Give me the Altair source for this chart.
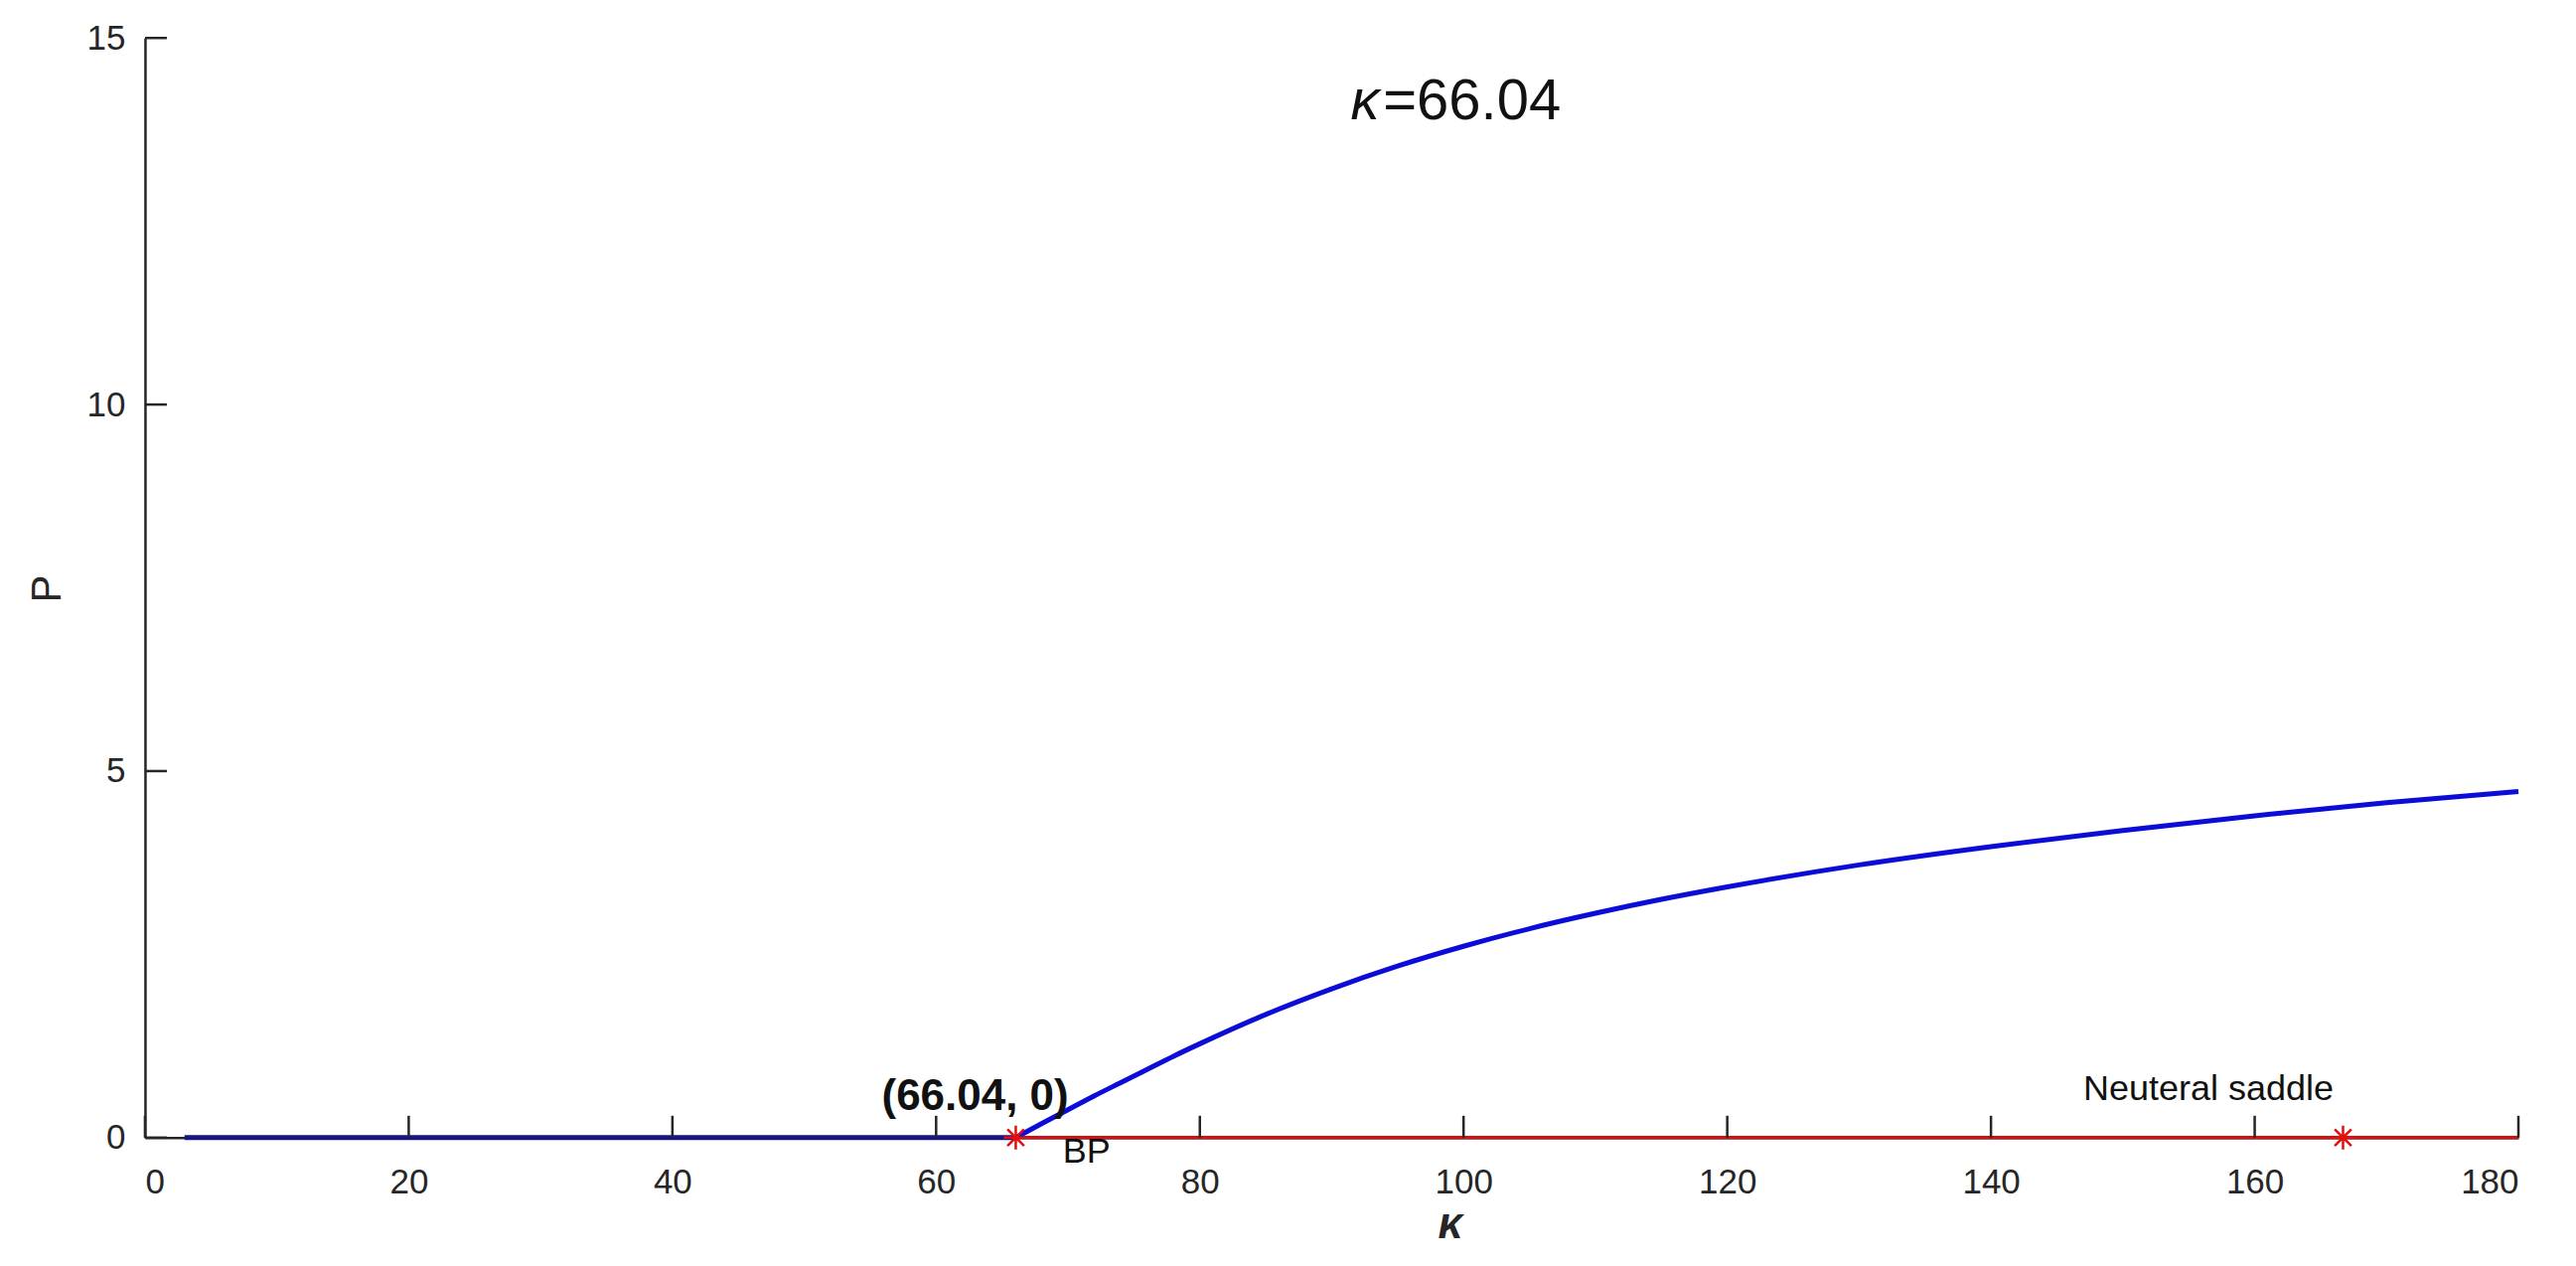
import altair as alt
import pandas as pd

# ---- data ----
flat_k = [3.0, 66.04]
flat_p = [0.0, 0.0]

curve_k = [66.04, 68, 70, 72, 74, 76, 78, 80, 85, 90, 95, 100, 105, 110, 115, 120,
           130, 140, 150, 160, 170, 180]
curve_p = [0.0, 0.19, 0.38, 0.57, 0.75, 0.93, 1.11, 1.28, 1.68, 2.03, 2.34, 2.61, 2.85,
           3.06, 3.25, 3.42, 3.72, 3.97, 4.19, 4.39, 4.57, 4.72]

red_k = [66.04, 180]
red_p = [0.0, 0.0]

star_k = [66.04, 166.7]
star_p = [0.0, 0.0]

x_ticks = [0, 20, 40, 60, 80, 100, 120, 140, 160, 180]
y_ticks = [0, 5, 10, 15]

W, H = 2390, 1107
FONT = "Liberation Sans"
AX = "#262626"

xs = alt.Scale(domain=[0, 180], nice=False, zero=False)
ys = alt.Scale(domain=[0, 15], nice=False, zero=False)

x_axis = alt.Axis(values=x_ticks, grid=False, tickSize=0, domainColor=AX, domainWidth=2.5,
                  labelFont=FONT, labelFontSize=35, labelColor=AX, labelPadding=28,
                  title="κ", titleFont=FONT, titleFontSize=44, titleFontStyle="italic",
                  titleFontWeight="bold", titleColor=AX, titleX=1314, titleY=88,
                  titleAlign="center", titleBaseline="middle")
y_axis = alt.Axis(values=y_ticks, grid=False, tickSize=0, domainColor=AX, domainWidth=2.5,
                  labelFont=FONT, labelFontSize=35, labelColor=AX, labelPadding=20,
                  title="P", titleFont=FONT, titleFontSize=42, titleFontWeight="normal",
                  titleColor=AX, titleX=-98, titleY=554, titleAngle=270,
                  titleAlign="center", titleBaseline="middle")


def X():
    return alt.X("k:Q", scale=xs, axis=x_axis)


def Y():
    return alt.Y("p:Q", scale=ys, axis=y_axis)


flat = alt.Chart(pd.DataFrame({"k": flat_k, "p": flat_p})).mark_line(
    color="#16167e", strokeWidth=5).encode(x=X(), y=Y())
curve = alt.Chart(pd.DataFrame({"k": curve_k, "p": curve_p})).mark_line(
    color="#0c0cd8", strokeWidth=5, interpolate="monotone").encode(x=X(), y=Y())
red = alt.Chart(pd.DataFrame({"k": red_k, "p": red_p})).mark_line(
    color="#c81414", strokeWidth=3.5).encode(x=X(), y=Y())

star_path = ("M 0 -1 L 0 1 M -1 0 L 1 0 M -0.7 -0.7 L 0.7 0.7 M -0.7 0.7 L 0.7 -0.7")
stars = alt.Chart(pd.DataFrame({"k": star_k, "p": star_p})).mark_point(
    shape=star_path, size=576, color="#e01010", strokeWidth=2.5, filled=False,
    opacity=1).encode(x=X(), y=Y())

xt = alt.Chart(pd.DataFrame({"k": x_ticks})).mark_rule(color=AX, strokeWidth=2.5).encode(
    x=X(), y=alt.value(H), y2=alt.value(H - 22))
yt = alt.Chart(pd.DataFrame({"p": y_ticks})).mark_rule(color=AX, strokeWidth=2.5).encode(
    y=Y(), x=alt.value(0), x2=alt.value(22))

# annotations (data coordinates)
ann_bold = pd.DataFrame({"k": [62.96], "p": [0.38], "t": ["(66.04, 0)"]})
ann_norm = pd.DataFrame({"k": [69.6, 147.0], "p": [-0.34, 0.515], "t": ["BP", "Neuteral saddle"]})
title_kappa = pd.DataFrame({"k": [91.43], "p": [13.89], "t": ["κ"]})
title_val = pd.DataFrame({"k": [93.9], "p": [13.89], "t": ["=66.04"]})

t_bold = alt.Chart(ann_bold).mark_text(font=FONT, fontSize=44, fontWeight="bold",
                                       color="#111111", align="center", baseline="alphabetic",
                                       clip=False).encode(x=X(), y=Y(), text="t:N")
t_norm = alt.Chart(ann_norm).mark_text(font=FONT, fontSize=36, color="#111111",
                                       align="left", baseline="alphabetic",
                                       clip=False).encode(x=X(), y=Y(), text="t:N")
t_k = alt.Chart(title_kappa).mark_text(font=FONT, fontSize=58, fontStyle="italic",
                                       color="#111111", align="left", baseline="alphabetic",
                                       clip=False).encode(x=X(), y=Y(), text="t:N")
t_v = alt.Chart(title_val).mark_text(font=FONT, fontSize=58, color="#111111",
                                     align="left", baseline="alphabetic",
                                     clip=False).encode(x=X(), y=Y(), text="t:N")

chart = alt.layer(flat, red, curve, stars, xt, yt, t_bold, t_norm, t_k, t_v).properties(
    width=W, height=H,
    background="white",
    autosize=alt.AutoSizeParams(type="none"),
    padding={"left": 138, "top": 30, "right": 50, "bottom": 121},
).configure_view(strokeWidth=0, stroke="transparent")

chart.save("out.html", embed_options={"renderer": "svg", "actions": False})
